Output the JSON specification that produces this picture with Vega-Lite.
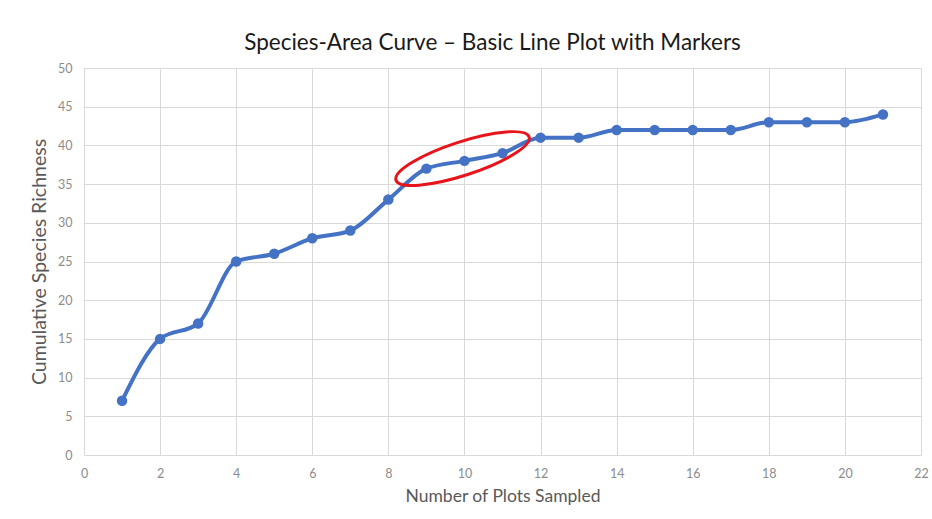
{
  "$schema": "https://vega.github.io/schema/vega-lite/v6.json",
  "width": 837,
  "height": 387,
  "autosize": {"type": "none"},
  "padding": {"left": 84, "top": 68, "right": 11, "bottom": 64},
  "background": "white",
  "title": {
    "text": "Species-Area Curve – Basic Line Plot with Markers",
    "font": "Lato",
    "fontSize": 22.5,
    "fontWeight": "normal",
    "color": "#1a1a1a",
    "anchor": "middle",
    "offset": 8,
    "dx": -10
  },
  "config": {
    "view": {"stroke": null},
    "axis": {
      "labelFont": "Lato",
      "titleFont": "Lato",
      "labelColor": "#8c8c8c",
      "titleColor": "#595959",
      "labelFontSize": 12.5,
      "titleFontWeight": "normal",
      "gridColor": "#d9d9d9",
      "gridWidth": 1,
      "ticks": false,
      "domain": false,
      "labelOverlap": false,
      "labelFlush": false
    }
  },
  "datasets": {
    "curve": [
      {"plots": 1, "richness": 7},
      {"plots": 2, "richness": 15},
      {"plots": 3, "richness": 17},
      {"plots": 4, "richness": 25},
      {"plots": 5, "richness": 26},
      {"plots": 6, "richness": 28},
      {"plots": 7, "richness": 29},
      {"plots": 8, "richness": 33},
      {"plots": 9, "richness": 37},
      {"plots": 10, "richness": 38},
      {"plots": 11, "richness": 39},
      {"plots": 12, "richness": 41},
      {"plots": 13, "richness": 41},
      {"plots": 14, "richness": 42},
      {"plots": 15, "richness": 42},
      {"plots": 16, "richness": 42},
      {"plots": 17, "richness": 42},
      {"plots": 18, "richness": 43},
      {"plots": 19, "richness": 43},
      {"plots": 20, "richness": 43},
      {"plots": 21, "richness": 44}
    ],
    "highlight": [
      {"plots": 9.95, "richness": 38.3}
    ]
  },
  "encoding": {
    "x": {
      "field": "plots",
      "type": "quantitative",
      "scale": {"domain": [0, 22], "nice": false},
      "axis": {"values": [0,2,4,6,8,10,12,14,16,18,20,22], "title": "Number of Plots Sampled", "titleFontSize": 17.5, "labelPadding": 12, "titlePadding": 8}
    },
    "y": {
      "field": "richness",
      "type": "quantitative",
      "scale": {"domain": [0, 50], "nice": false},
      "axis": {"values": [0,5,10,15,20,25,30,35,40,45,50], "title": "Cumulative Species Richness", "titleFontSize": 19.5, "labelPadding": 12, "titlePadding": 8}
    }
  },
  "layer": [
    {
      "data": {"name": "curve"},
      "mark": {"type": "line", "color": "#4472C4", "strokeWidth": 4, "interpolate": "monotone"}
    },
    {
      "data": {"name": "curve"},
      "mark": {"type": "point", "filled": true, "opacity": 1, "color": "#4472C4", "size": 110}
    },
    {
      "data": {"name": "highlight"},
      "mark": {
        "type": "point",
        "filled": false,
        "shape": "M -1 0 A 1 0.24 0 1 0 1 0 A 1 0.24 0 1 0 -1 0 Z",
        "size": 19600,
        "angle": -18,
        "stroke": "#e8141b",
        "strokeWidth": 3,
        "opacity": 1
      }
    }
  ]
}
